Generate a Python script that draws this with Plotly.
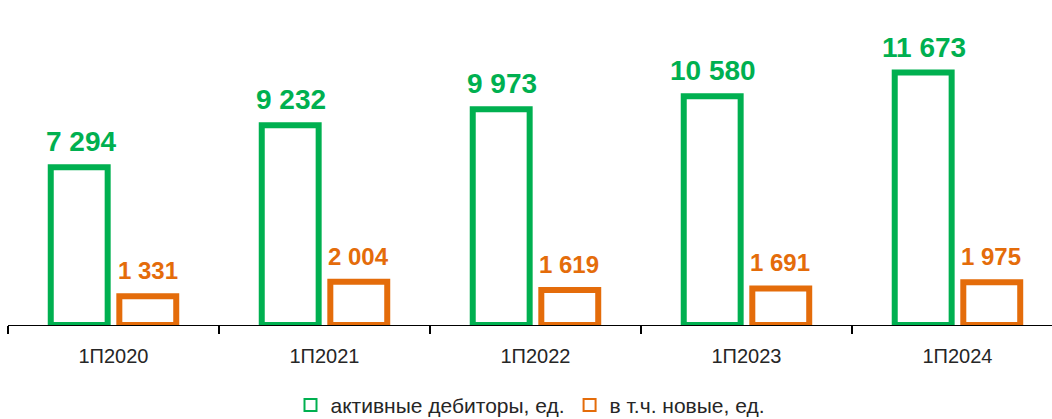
import plotly.graph_objects as go

categories = ["1П2020", "1П2021", "1П2022", "1П2023", "1П2024"]
active = [7294, 9232, 9973, 10580, 11673]
new = [1331, 2004, 1619, 1691, 1975]
series_names = ["активные дебиторы, ед.", "в т.ч. новые, ед."]

GREEN = "#00B050"
ORANGE = "#E46C0A"
FONT = "Liberation Sans, Arial, sans-serif"


def fmt(v):
    return f"{v:,}".replace(",", " ")


fig = go.Figure()
fig.add_trace(go.Bar(x=categories, y=active, name=series_names[0],
                     marker=dict(color="white", line=dict(color=GREEN, width=6))))
fig.add_trace(go.Bar(x=categories, y=new, name=series_names[1],
                     marker=dict(color="white", line=dict(color=ORANGE, width=6))))

annotations = []
for c, v in zip(categories, active):
    annotations.append(dict(x=c, y=v, text=f"<b>{fmt(v)}</b>", showarrow=False,
                            xref="x", yref="y", xshift=-33, yshift=8, yanchor="bottom",
                            font=dict(family=FONT, size=28, color=GREEN)))
for c, v in zip(categories, new):
    annotations.append(dict(x=c, y=v, text=f"<b>{fmt(v)}</b>", showarrow=False,
                            xref="x", yref="y", xshift=34, yshift=10, yanchor="bottom",
                            font=dict(family=FONT, size=24, color=ORANGE)))

fig.update_layout(
    width=1052, height=419,
    margin=dict(l=8, r=0, t=0, b=94.3, autoexpand=False),
    paper_bgcolor="white", plot_bgcolor="white",
    barmode="group", bargap=0.35, bargroupgap=0.17,
    showlegend=True,
    legend=dict(orientation="h", x=0.5, xanchor="center", y=-0.247, yanchor="middle",
                font=dict(family=FONT, size=21, color="#262626"),
                itemsizing="constant"),
    annotations=annotations,
    xaxis=dict(type="category", range=[-0.5, 4.448], showline=True, linecolor="black",
               linewidth=1, ticks="outside", tickson="boundaries", ticklen=8,
               tickcolor="black", tickwidth=2, ticklabelstandoff=13,
               tickfont=dict(family=FONT, size=20, color="#262626"),
               showgrid=False, zeroline=False),
    yaxis=dict(range=[0, 15030], visible=False, showgrid=False, zeroline=False),
)

fig.write_html("out.html", config={"displayModeBar": False},
               post_script="document.body.style.margin='0';document.body.style.overflow='hidden';")
